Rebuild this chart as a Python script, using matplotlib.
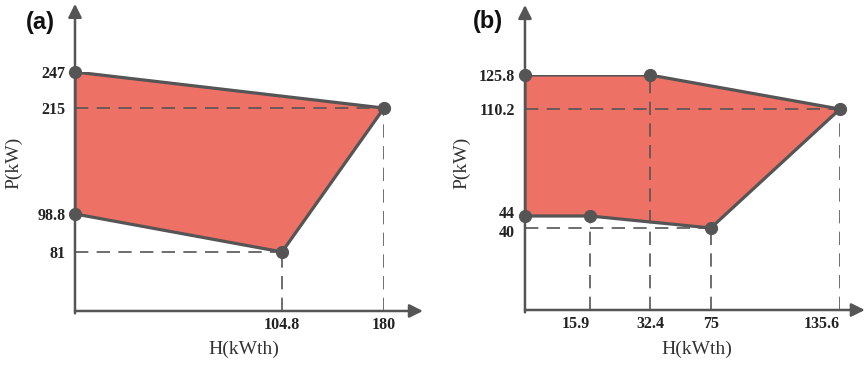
import numpy as np
import matplotlib.pyplot as plt
import matplotlib.transforms as mtransforms

# (a) operating region vertices, H in kWth and P in kW
a_H = [0, 180, 104.8, 0]
a_P = [247, 215, 81, 98.8]
a_xticks = [104.8, 180]
a_yticks = [81, 98.8, 215, 247]

# (b) operating region vertices
b_H = [0, 32.4, 135.6, 75, 15.9, 0]
b_P = [125.8, 125.8, 110.2, 40, 44, 44]
b_xticks = [15.9, 32.4, 75, 135.6]
b_yticks = [40, 44, 110.2, 125.8]

# the axes are schematic: each labelled value sits at a fixed fraction of the axis
a_xfrac = [0.670, 1.0]
a_yfrac = [0.247, 0.406, 0.849, 1.0]
b_xfrac = [0.206, 0.397, 0.590, 1.0]
b_yfrac = [0.349, 0.400, 0.855, 1.0]

FILL = '#EE7166'
DARK = '#555555'


def schematic_scale(vals, fracs):
    v = np.r_[0.0, vals]
    f = np.r_[0.0, fracs]
    s0 = (f[1] - f[0]) / (v[1] - v[0])
    s1 = (f[-1] - f[-2]) / (v[-1] - v[-2])
    v = np.r_[-1e4, v, v[-1] + 1e4]
    f = np.r_[-1e4 * s0, f, f[-1] + 1e4 * s1]
    fwd = lambda x: np.interp(x, v, f)
    inv = lambda y: np.interp(y, f, v)
    return fwd, inv


def panel(rect, H, P, xticks, yticks, xfrac, yfrac, tag, tips, xlab_pos, ylab_pos, tag_pos):
    ax = fig.add_axes(rect)
    ax.set_xscale('function', functions=schematic_scale(xticks, xfrac))
    ax.set_yscale('function', functions=schematic_scale(yticks, yfrac))
    ax.set_xlim(0, max(xticks))
    ax.set_ylim(0, max(yticks))
    for s in ax.spines.values():
        s.set_visible(False)
    ax.patch.set_visible(False)

    ax.fill(H, P, color=FILL, lw=0, zorder=1)

    # guide lines down to the axes
    left_levels = [p for h, p in zip(H, P) if h == 0]
    for h, p in zip(H, P):
        if h == 0:
            continue
        ax.plot([h, h], [0, p], color=DARK, lw=1.2, ls=(0, (8, 5)), zorder=2)
        if p not in left_levels:
            ax.plot([0, h], [p, p], color=DARK, lw=1.2, ls=(0, (8, 5)), zorder=2)

    ax.plot(H + H[:1], P + P[:1], color=DARK, lw=2.3, zorder=3, solid_joinstyle='round')
    ax.plot(H, P, 'o', color=DARK, ms=8.5, zorder=4, clip_on=False)

    # axes with arrow heads
    arrow = dict(arrowstyle='-|>', color=DARK, lw=1.8, mutation_scale=20, shrinkA=0, shrinkB=0)
    ax.annotate('', xy=(tips[0], 0), xytext=(0, 0), xycoords='axes fraction', arrowprops=arrow)
    ax.annotate('', xy=(0, tips[1]), xytext=(0, -0.01), xycoords='axes fraction', arrowprops=arrow)

    ax.set_xticks(xticks)
    ax.set_xticklabels([f'{t:g}' for t in xticks])
    ax.set_yticks(yticks)
    ax.set_yticklabels([f'{t:g}' for t in yticks])
    ax.tick_params(length=0, labelsize=11.5, labelcolor='#222222')
    ax.tick_params(axis='x', pad=4)
    ax.tick_params(axis='y', pad=7)
    for lb in ax.get_xticklabels() + ax.get_yticklabels():
        lb.set_fontfamily('Liberation Serif')
        lb.set_fontweight('bold')

    ax.set_xlabel('H(kWth)', family='Liberation Serif', fontsize=14, color='#333333')
    ax.set_ylabel('P(kW)', family='Liberation Serif', fontsize=14, color='#333333')
    ax.xaxis.set_label_coords(*xlab_pos)
    ax.yaxis.set_label_coords(*ylab_pos)
    ax.text(*tag_pos, tag, transform=ax.transAxes, ha='center', va='center',
            family='Liberation Sans', fontweight='bold', fontsize=17, color='#111111')
    return ax


fig = plt.figure(figsize=(8.67, 3.65), dpi=100)

panel([0.0865, 0.148, 0.3564, 0.6548], a_H, a_P, a_xticks, a_yticks, a_xfrac, a_yfrac,
      '(a)', (1.126, 1.285), (0.547, -0.125), (-0.170, 0.619), (-0.113, 1.209))

axb = panel([0.6055, 0.1507, 0.3633, 0.6438], b_H, b_P, b_xticks, b_yticks, b_xfrac, b_yfrac,
            '(b)', (1.079, 1.298), (0.546, -0.132), (-0.172, 0.626), (-0.117, 1.226))
# the outer labels of (b) sit left of their guide lines
labels = axb.get_xticklabels()
labels[0].set_horizontalalignment('right')
labels[-1].set_horizontalalignment('right')
# spread the two close labels 40 and 44 apart a little
ylabels = axb.get_yticklabels()
for lb, dy in zip(ylabels[:2], (-2, 3)):
    lb.set_transform(lb.get_transform() + mtransforms.ScaledTranslation(0, dy / 72, fig.dpi_scale_trans))

fig.savefig('out.png', dpi=100)
